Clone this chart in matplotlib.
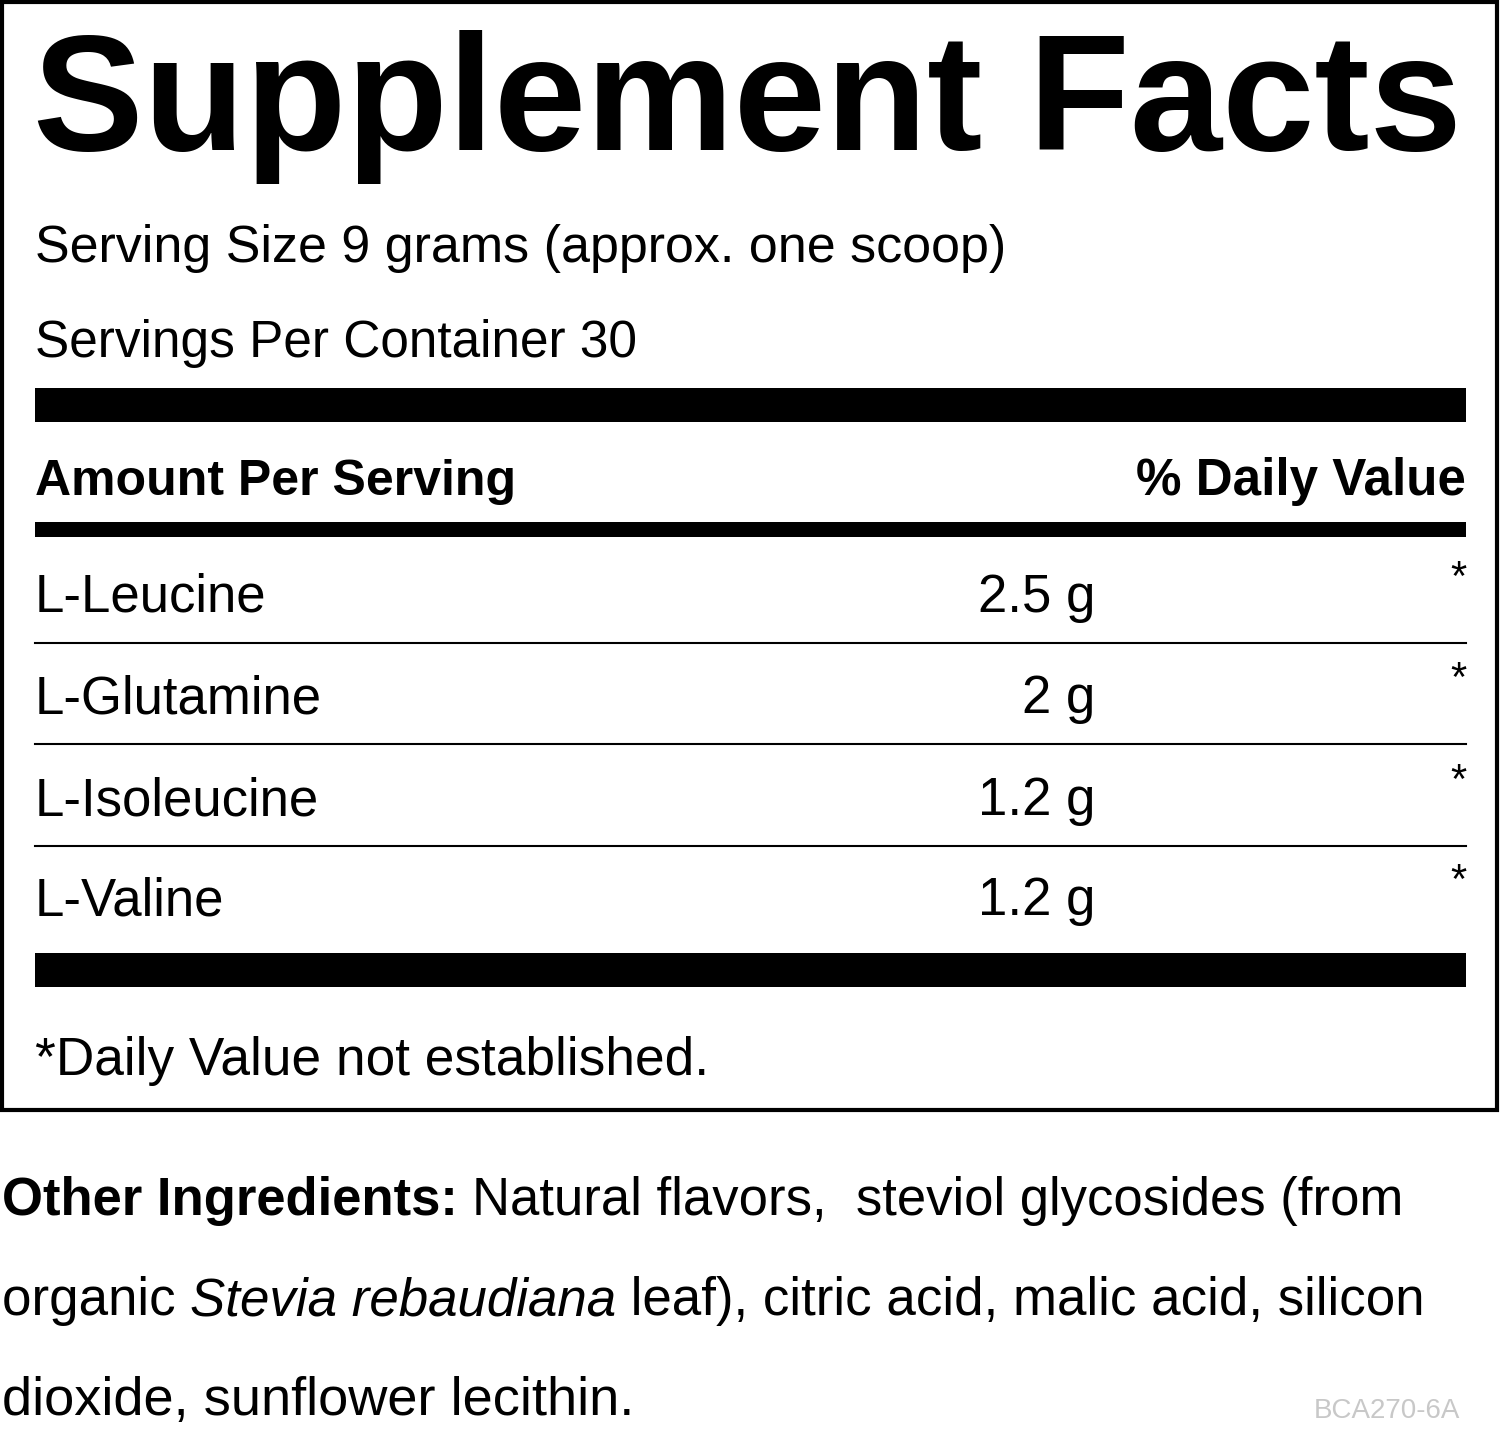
import matplotlib
matplotlib.use("Agg")
import matplotlib.pyplot as plt
from matplotlib.patches import Rectangle

FAM = ["Liberation Sans", "DejaVu Sans"]

title = "Supplement Facts"
serving_size = "Serving Size 9 grams (approx. one scoop)"
servings = "Servings Per Container 30"
nutrients = ["L-Leucine", "L-Glutamine", "L-Isoleucine", "L-Valine"]
amounts = ["2.5 g", "2 g", "1.2 g", "1.2 g"]
daily_values = ["*", "*", "*", "*"]
footnote = "*Daily Value not established."
other_parts = [
    [("Other Ingredients: ", "bold", "normal"),
     ("Natural flavors,  steviol glycosides (from", "normal", "normal")],
    [("organic ", "normal", "normal"), ("Stevia rebaudiana", "normal", "italic"),
     (" leaf), citric acid, malic acid, silicon", "normal", "normal")],
    [("dioxide, sunflower lecithin.", "normal", "normal")],
]
code = "BCA270-6A"

fig = plt.figure(figsize=(15, 14.35), dpi=100)
ax = fig.add_axes([0, 0, 1, 1])
ax.set_xlim(0, 1500)
ax.set_ylim(1435, 0)
ax.axis("off")
fig.canvas.draw()
renderer = fig.canvas.get_renderer()
inv = ax.transData.inverted()


def width_of(t):
    bb = t.get_window_extent(renderer)
    return bb.width


def fit(t, target):
    # scale font so the text spans the target width in pixels
    t.set_fontsize(t.get_fontsize() * target / width_of(t))
    return t


L, R = 35, 1466
ax.add_patch(Rectangle((2, 2), 1495, 1108, fill=False, lw=3, ec="black"))

fit(ax.text(33, 150, title, fontsize=100, fontweight="bold", family=FAM,
            va="baseline"), 1429)
fit(ax.text(L, 262, serving_size, fontsize=40, family=FAM, va="baseline"), 970)
fit(ax.text(L, 357, servings, fontsize=40, family=FAM, va="baseline"), 602)

for y0, h in [(388, 34), (522, 15), (953, 34)]:
    ax.add_patch(Rectangle((L, y0), R - L, h, color="black", lw=0))

fit(ax.text(L, 495, "Amount Per Serving", fontsize=40, fontweight="bold",
            family=FAM, va="baseline"), 480)
fit(ax.text(R, 495, "% Daily Value", fontsize=40, fontweight="bold",
            family=FAM, va="baseline", ha="right"), 329)

body = 38
row_y = [612, 713, 815, 915]
for i, (n, a, d) in enumerate(zip(nutrients, amounts, daily_values)):
    ax.text(L, row_y[i], n, fontsize=body, family=FAM, va="baseline")
    ax.text(1095, row_y[i], a, fontsize=body, family=FAM, va="baseline", ha="right")
    ax.text(R, row_y[i] - 22, d, fontsize=30, family=FAM, va="baseline", ha="right")
    if i < len(nutrients) - 1:
        ax.plot([L, R], [row_y[i] + 31, row_y[i] + 31], color="black", lw=1.5)

fit(ax.text(L, 1075, footnote, fontsize=40, family=FAM, va="baseline"), 673)

# other ingredients, pieces laid out one after another
line_widths = [1400, 1423, 634]
for j, parts in enumerate(other_parts):
    y = 1215 + j * 100
    pieces = [ax.text(0, y, txt, fontsize=40, fontweight=w, fontstyle=st,
                      family=FAM, va="baseline") for txt, w, st in parts]
    total = sum(width_of(p) for p in pieces)
    scale = line_widths[j] / total if j < 2 else line_widths[j] / total
    x = 2
    for p in pieces:
        p.set_fontsize(min(40 * scale, 40))
        p.set_x(x)
        bb = p.get_window_extent(renderer)
        x += bb.width * inv.get_matrix()[0, 0]

ax.text(1460, 1418, code, fontsize=20, family=FAM, va="baseline",
        ha="right", color="#c8c8c8")

fig.savefig("out.png", dpi=100)
